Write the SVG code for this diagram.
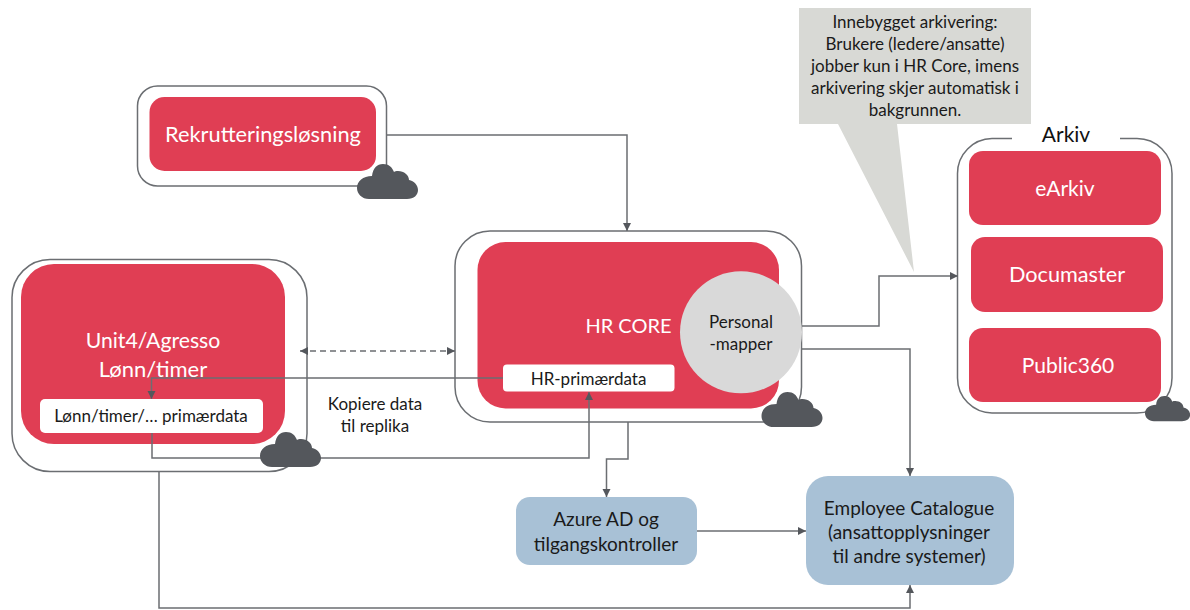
<svg xmlns="http://www.w3.org/2000/svg" xmlns:xlink="http://www.w3.org/1999/xlink" width="1190" height="610" viewBox="0 0 1190 610">
<style>
text{font-family:"Lato","Open Sans","Liberation Sans",sans-serif;text-anchor:middle}
.o{fill:#fff;stroke:#6b6e72;stroke-width:1.5}
.r{fill:#e03e54}
.w{fill:#fff}
.b{fill:#a8c1d6}
.c{fill:#54575c}
.l{fill:#fff;font-size:21.800px}
.a{fill:#fff;font-size:21px}
.k{fill:#1a1a1a;font-size:17px}
.m{fill:#1a1a1a;font-size:19px}
.e{fill:none;stroke:#6b6e72;stroke-width:1.5}
</style>
<defs>
<marker id="a" markerWidth="10" markerHeight="10" refX="8" refY="4" orient="auto-start-reverse" markerUnits="userSpaceOnUse"><path d="M0 0L8 4L0 8Z" fill="#54575c"/></marker>
<path id="cl" d="M12 35H50C57 35 61 31 61 26C61 21 57 17 52 16C52 11 47 7 41 7C39 7 38 7 37 8C35 3 32 0 26 0C20 0 16 4 15 12C6 12 0 17 0 24C0 30 5 35 12 35Z"/>
</defs>
<g id="callout">
<path d="M799 8H1031V124H897L914 272L838 124H799Z" fill="#d8d9d5"/>
<text class="k" x="915" y="28">Innebygget arkivering:</text>
<text class="k" x="915" y="50">Brukere (ledere/ansatte)</text>
<text class="k" x="915" y="72">jobber kun i HR Core, imens</text>
<text class="k" x="915" y="94">arkivering skjer automatisk i</text>
<text class="k" x="915" y="116">bakgrunnen.</text>
</g>
<g id="rekruttering">
<rect class="o" x="137.5" y="86" width="249" height="100" rx="20"/>
<rect class="r" x="149.500" y="97" width="226.500" height="74" rx="15"/>
<text class="l" x="263" y="142">Rekrutteringsløsning</text>
</g>
<g id="unit4">
<rect class="o" x="12" y="259.500" width="295" height="212" rx="38"/>
<rect class="r" x="21" y="264" width="264" height="180" rx="33"/>
<text class="l" x="153" y="348" style="font-size:21.200px">Unit4/Agresso</text>
<text class="l" x="153" y="376.500" style="font-size:22px">Lønn/timer</text>
<rect class="w" x="40" y="399" width="223" height="34" rx="5"/>
<text class="k" x="151" y="422">Lønn/timer/… primærdata</text>
</g>
<g id="hrcore">
<rect class="o" x="455" y="231" width="346.500" height="191" rx="35"/>
<rect class="r" x="477.500" y="242" width="301.500" height="166.500" rx="28"/>
<text class="l" x="628.500" y="333" style="font-size:20px">HR CORE</text>
<rect class="w" x="503" y="364.500" width="171.500" height="27" rx="4"/>
<text class="k" x="588.500" y="385">HR-primærdata</text>
<circle cx="741" cy="332.300" r="61" fill="#d9d9d9"/>
<text class="k" x="741" y="328">Personal</text>
<text class="k" x="741" y="350">-mapper</text>
</g>
<g id="arkiv">
<path class="o" style="fill:none" d="M1012 138.500H992A35 35 0 0 0 957.500 173.500V378A35 35 0 0 0 992 413H1137A35 35 0 0 0 1172 378V173.500A35 35 0 0 0 1137 138.500H1120"/>
<text x="1066" y="142" style="font-size:21px;fill:#111">Arkiv</text>
<rect class="r" x="969" y="151" width="192" height="74" rx="14"/>
<text class="a" x="1065" y="196">eArkiv</text>
<rect class="r" x="971" y="237" width="192" height="75" rx="14"/>
<text class="a" x="1067" y="282" style="font-size:21.700px">Documaster</text>
<rect class="r" x="969" y="328" width="192" height="74" rx="14"/>
<text class="a" x="1068" y="373">Public360</text>
</g>
<g id="azure">
<rect class="b" x="516" y="497" width="181" height="68" rx="14"/>
<text class="m" x="606" y="526">Azure AD og</text>
<text class="m" x="606" y="550.500">tilgangskontroller</text>
</g>
<g id="employee">
<rect class="b" x="806" y="476" width="208" height="109" rx="22"/>
<text class="m" x="909" y="514.500">Employee Catalogue</text>
<text class="m" x="909" y="539">(ansattopplysninger</text>
<text class="m" x="909" y="563">til andre systemer)</text>
</g>
<g id="connectors">
<path class="e" marker-end="url(#a)" d="M387 135H627V231"/>
<path class="e" stroke-dasharray="6 4" marker-start="url(#a)" marker-end="url(#a)" d="M300 351H455"/>
<path class="e" marker-end="url(#a)" d="M503 378H151.500V399"/>
<path class="e" marker-end="url(#a)" d="M152 433V458H589V392"/>
<path class="e" marker-end="url(#a)" d="M628 422V459H606.500V497"/>
<path class="e" marker-end="url(#a)" d="M802 326H879V276H958"/>
<path class="e" marker-end="url(#a)" d="M802 349H910V476"/>
<path class="e" marker-end="url(#a)" d="M159 472V608H910V585"/>
<path class="e" marker-end="url(#a)" d="M697 531H806"/>
</g>
<g id="label-kopiere">
<text class="k" x="375" y="410">Kopiere data</text>
<text class="k" x="375" y="431.500">til replika</text>
</g>
<g id="clouds">
<use xlink:href="#cl" class="c" x="357" y="164"/>
<use xlink:href="#cl" class="c" x="260" y="432"/>
<use xlink:href="#cl" class="c" x="761.500" y="392"/>
<use xlink:href="#cl" class="c" transform="translate(1145 396) scale(.74 .72)"/>
</g>
</svg>
